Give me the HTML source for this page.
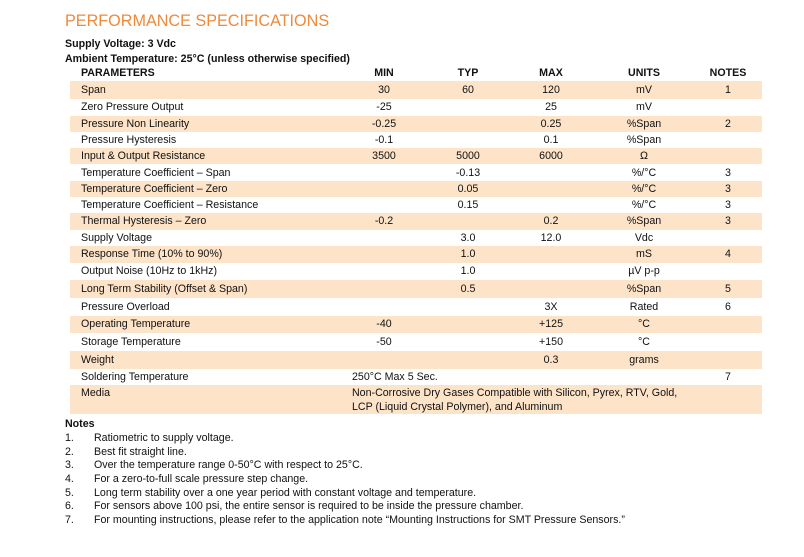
<!DOCTYPE html>
<html><head><meta charset="utf-8"><style>
body{margin:0;width:804px;height:557px;background:#fff;font-family:"Liberation Sans",sans-serif;color:#111;position:relative;overflow:hidden}
.a{position:absolute;white-space:nowrap;font-size:10.65px;line-height:13px}
.b{font-weight:bold}
.r{position:absolute;left:70px;width:692px;background:#fde3c8}
.c{position:absolute;transform:translateX(-50%);white-space:nowrap;font-size:10.65px;line-height:13px}
</style></head><body>
<div class="a" style="left:65px;top:11px;font-size:16.2px;line-height:20px;color:#ee8a3c">PERFORMANCE SPECIFICATIONS</div>
<div class="a b" style="left:65px;top:38px">Supply Voltage: 3 Vdc</div>
<div class="a b" style="left:65px;top:53px">Ambient Temperature: 25°C (unless otherwise specified)</div>
<div class="a b" style="left:81px;top:67px">PARAMETERS</div>
<div class="c b" style="left:384px;top:67px">MIN</div>
<div class="c b" style="left:468px;top:67px">TYP</div>
<div class="c b" style="left:551px;top:67px">MAX</div>
<div class="c b" style="left:644px;top:67px">UNITS</div>
<div class="c b" style="left:728px;top:67px">NOTES</div>

<div class="r" style="top:81px;height:18px"></div>
<div class="r" style="top:116px;height:16px"></div>
<div class="r" style="top:148px;height:16px"></div>
<div class="r" style="top:181px;height:16px"></div>
<div class="r" style="top:213px;height:17px"></div>
<div class="r" style="top:246px;height:17px"></div>
<div class="r" style="top:280px;height:18px"></div>
<div class="r" style="top:316px;height:17px"></div>
<div class="r" style="top:351px;height:18px"></div>
<div class="r" style="top:385px;height:29px"></div>

<div class="a" style="left:81px;top:84px">Span</div><div class="c" style="left:384px;top:84px">30</div><div class="c" style="left:468px;top:84px">60</div><div class="c" style="left:551px;top:84px">120</div><div class="c" style="left:644px;top:84px">mV</div><div class="c" style="left:728px;top:84px">1</div>
<div class="a" style="left:81px;top:101px">Zero Pressure Output</div><div class="c" style="left:384px;top:101px">-25</div><div class="c" style="left:551px;top:101px">25</div><div class="c" style="left:644px;top:101px">mV</div>
<div class="a" style="left:81px;top:118px">Pressure Non Linearity</div><div class="c" style="left:384px;top:118px">-0.25</div><div class="c" style="left:551px;top:118px">0.25</div><div class="c" style="left:644px;top:118px">%Span</div><div class="c" style="left:728px;top:118px">2</div>
<div class="a" style="left:81px;top:134px">Pressure Hysteresis</div><div class="c" style="left:384px;top:134px">-0.1</div><div class="c" style="left:551px;top:134px">0.1</div><div class="c" style="left:644px;top:134px">%Span</div>
<div class="a" style="left:81px;top:150px">Input &amp; Output Resistance</div><div class="c" style="left:384px;top:150px">3500</div><div class="c" style="left:468px;top:150px">5000</div><div class="c" style="left:551px;top:150px">6000</div><div class="c" style="left:644px;top:150px">Ω</div>
<div class="a" style="left:81px;top:167px">Temperature Coefficient – Span</div><div class="c" style="left:468px;top:167px">-0.13</div><div class="c" style="left:644px;top:167px">%/°C</div><div class="c" style="left:728px;top:167px">3</div>
<div class="a" style="left:81px;top:183px">Temperature Coefficient – Zero</div><div class="c" style="left:468px;top:183px">0.05</div><div class="c" style="left:644px;top:183px">%/°C</div><div class="c" style="left:728px;top:183px">3</div>
<div class="a" style="left:81px;top:199px">Temperature Coefficient – Resistance</div><div class="c" style="left:468px;top:199px">0.15</div><div class="c" style="left:644px;top:199px">%/°C</div><div class="c" style="left:728px;top:199px">3</div>
<div class="a" style="left:81px;top:215px">Thermal Hysteresis – Zero</div><div class="c" style="left:384px;top:215px">-0.2</div><div class="c" style="left:551px;top:215px">0.2</div><div class="c" style="left:644px;top:215px">%Span</div><div class="c" style="left:728px;top:215px">3</div>
<div class="a" style="left:81px;top:232px">Supply Voltage</div><div class="c" style="left:468px;top:232px">3.0</div><div class="c" style="left:551px;top:232px">12.0</div><div class="c" style="left:644px;top:232px">Vdc</div>
<div class="a" style="left:81px;top:248px">Response Time (10% to 90%)</div><div class="c" style="left:468px;top:248px">1.0</div><div class="c" style="left:644px;top:248px">mS</div><div class="c" style="left:728px;top:248px">4</div>
<div class="a" style="left:81px;top:265px">Output Noise (10Hz to 1kHz)</div><div class="c" style="left:468px;top:265px">1.0</div><div class="c" style="left:644px;top:265px">µV p-p</div>
<div class="a" style="left:81px;top:283px">Long Term Stability (Offset &amp; Span)</div><div class="c" style="left:468px;top:283px">0.5</div><div class="c" style="left:644px;top:283px">%Span</div><div class="c" style="left:728px;top:283px">5</div>
<div class="a" style="left:81px;top:301px">Pressure Overload</div><div class="c" style="left:551px;top:301px">3X</div><div class="c" style="left:644px;top:301px">Rated</div><div class="c" style="left:728px;top:301px">6</div>
<div class="a" style="left:81px;top:318px">Operating Temperature</div><div class="c" style="left:384px;top:318px">-40</div><div class="c" style="left:551px;top:318px">+125</div><div class="c" style="left:644px;top:318px">°C</div>
<div class="a" style="left:81px;top:336px">Storage Temperature</div><div class="c" style="left:384px;top:336px">-50</div><div class="c" style="left:551px;top:336px">+150</div><div class="c" style="left:644px;top:336px">°C</div>
<div class="a" style="left:81px;top:354px">Weight</div><div class="c" style="left:551px;top:354px">0.3</div><div class="c" style="left:644px;top:354px">grams</div>
<div class="a" style="left:81px;top:371px">Soldering Temperature</div><div class="a" style="left:352px;top:371px">250°C Max 5 Sec.</div><div class="c" style="left:728px;top:371px">7</div>
<div class="a" style="left:81px;top:387px">Media</div><div class="a" style="left:352px;top:387px">Non-Corrosive Dry Gases Compatible with Silicon, Pyrex, RTV, Gold,</div><div class="a" style="left:352px;top:401px">LCP (Liquid Crystal Polymer), and Aluminum</div>

<div class="a b" style="left:65px;top:418px">Notes</div>
<div class="a" style="left:65px;top:432px">1.</div><div class="a" style="left:94px;top:432px">Ratiometric to supply voltage.</div>
<div class="a" style="left:65px;top:446px">2.</div><div class="a" style="left:94px;top:446px">Best fit straight line.</div>
<div class="a" style="left:65px;top:459px">3.</div><div class="a" style="left:94px;top:459px">Over the temperature range 0-50°C with respect to 25°C.</div>
<div class="a" style="left:65px;top:473px">4.</div><div class="a" style="left:94px;top:473px">For a zero-to-full scale pressure step change.</div>
<div class="a" style="left:65px;top:487px">5.</div><div class="a" style="left:94px;top:487px">Long term stability over a one year period with constant voltage and temperature.</div>
<div class="a" style="left:65px;top:500px">6.</div><div class="a" style="left:94px;top:500px">For sensors above 100 psi, the entire sensor is required to be inside the pressure chamber.</div>
<div class="a" style="left:65px;top:514px">7.</div><div class="a" style="left:94px;top:514px">For mounting instructions, please refer to the application note “Mounting Instructions for SMT Pressure Sensors.”</div>
</body></html>
